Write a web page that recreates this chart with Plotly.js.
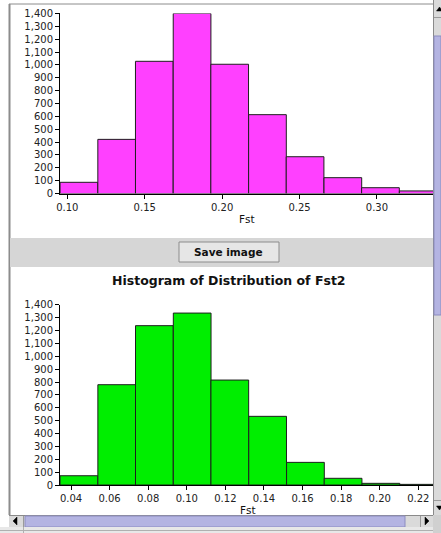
<!DOCTYPE html>
<html><head><meta charset="utf-8">
<script src="https://cdn.plot.ly/plotly-3.0.1.min.js"></script>
<style>html,body{margin:0;padding:0;background:#fff;overflow:hidden}#chart{width:441px;height:533px}</style>
</head><body><div id="chart"></div>
<script>
// ---- data ----
const fst1BinCenters = [0.1075, 0.1319, 0.1562, 0.1806, 0.2049, 0.2293, 0.2536, 0.2780, 0.3023, 0.3267];
const fst1Counts     = [87, 421, 1028, 1400, 1005, 613, 286, 123, 45, 20];
const fst1BinWidth   = 0.02435;
const fst2BinCenters = [0.0441, 0.0637, 0.0832, 0.1028, 0.1223, 0.1419, 0.1615, 0.1810, 0.2006, 0.2201];
const fst2Counts     = [72, 780, 1239, 1337, 816, 534, 176, 52, 13, 5];
const fst2BinWidth   = 0.01955;
const xLabel = 'Fst';
const chartTitle2 = 'Histogram of Distribution of Fst2';
const buttonLabel = 'Save image';

// ---- layout helpers (pixel -> paper) ----
const W = 441, H = 533;
const px = x => x / W;
const py = y => 1 - y / H;
const FONT = 'DejaVu Sans, Verdana, sans-serif';

function rect(x0, y0, x1, y1, fill, line, lw) {
  return {type: 'rect', xref: 'paper', yref: 'paper', layer: 'above',
    x0: px(x0), x1: px(x1), y0: py(y1), y1: py(y0),
    fillcolor: fill, line: {color: line || 'rgba(0,0,0,0)', width: lw === undefined ? (line ? 1 : 0) : lw}};
}
function lineS(x0, y0, x1, y1, color, w) {
  return {type: 'line', xref: 'paper', yref: 'paper', layer: 'above',
    x0: px(x0), x1: px(x1), y0: py(y0), y1: py(y1), line: {color: color, width: w || 1}};
}
function tri(pts) {
  const d = 'M' + pts.map(p => px(p[0]) + ',' + py(p[1])).join('L') + 'Z';
  return {type: 'path', xref: 'paper', yref: 'paper', layer: 'above', path: d,
    fillcolor: '#000', line: {color: '#000', width: 0.5}};
}

const barLine = {color: '#1e1e1e', width: 1};
const traces = [
  {type: 'bar', x: fst1BinCenters, y: fst1Counts, width: fst1BinWidth,
   marker: {color: '#ff40ff', line: barLine}, xaxis: 'x', yaxis: 'y', hoverinfo: 'x+y'},
  {type: 'bar', x: fst2BinCenters, y: fst2Counts, width: fst2BinWidth,
   marker: {color: '#00ee00', line: barLine}, xaxis: 'x2', yaxis: 'y2', hoverinfo: 'x+y'}
];

const tickFont = {family: FONT, size: 10, color: '#222'};
function xAxis(domainY, range, dtick, tick0, anchor) {
  return {domain: [px(60), px(433)], range: range, anchor: anchor,
    showline: true, linecolor: '#000', linewidth: 1, ticks: 'outside', ticklen: 4, tickcolor: '#000',
    tickformat: '.2f', dtick: dtick, tick0: tick0, showgrid: false, zeroline: false,
    tickfont: tickFont, fixedrange: true, automargin: false};
}
function yAxis(y0pix, y1pix, anchor) {
  return {domain: [py(y0pix), py(y1pix)], range: [0, 1400.5], anchor: anchor,
    showline: true, linecolor: '#000', linewidth: 1, ticks: 'outside', ticklen: 4, tickcolor: '#000',
    tickformat: ',d', dtick: 100, showgrid: false, zeroline: false,
    tickfont: tickFont, fixedrange: true, automargin: false};
}

const shapes = [
  // frame borders
  lineS(9, 4, 433, 4, '#8c8c8c', 1),
  lineS(9.5, 4, 9.5, 515, '#8c8c8c', 2),
  // band with button
  rect(10, 238, 433, 267, '#d6d6d6'),
  rect(179, 242, 279, 262, '#e6e6e6', '#8c8c8c', 1),
  // vertical scrollbar
  rect(433, 0, 441, 515, '#dadada'),
  lineS(433.5, 0, 433.5, 515, '#8a8a8a', 1),
  lineS(434, 17.5, 441, 17.5, '#9a9a9a', 1),
  rect(434, 36, 441, 315, '#b4b4e2', '#8c8cc0', 1),
  lineS(434, 500.5, 441, 500.5, '#9a9a9a', 1),
  tri([[436.5, 11], [439.5, 7], [442.5, 11]]),
  tri([[436.5, 506], [442.5, 506], [439.5, 510]]),
  // horizontal scrollbar
  rect(9, 515, 433, 527, '#dadada'),
  lineS(9, 515.5, 433, 515.5, '#8a8a8a', 1),
  lineS(23.5, 516, 23.5, 527, '#9a9a9a', 1),
  rect(25, 516, 405, 527, '#b4b4e2', '#8c8cc0', 1),
  lineS(420.5, 516, 420.5, 527, '#9a9a9a', 1),
  tri([[13, 521], [17, 517], [17, 525]]),
  tri([[425, 517], [429, 521], [425, 525]]),
  rect(433, 515, 441, 533, '#d0d0d0'),
  // bottom strip
  rect(0, 527, 433, 533, '#e8e8e8'),
  lineS(0, 530.5, 433, 530.5, '#b0b0b0', 1),
  lineS(23.5, 527, 23.5, 533, '#b0b0b0', 1)
];

function ann(text, x, y, size, bold) {
  return {text: text, xref: 'paper', yref: 'paper', x: px(x), y: py(y), xanchor: 'center', yanchor: 'middle',
    showarrow: false, font: {family: FONT, size: size, color: '#111', weight: bold ? 'bold' : 'normal'}};
}

const layout = {
  width: W, height: H, margin: {l: 0, r: 0, t: 0, b: 0, pad: 0},
  paper_bgcolor: '#ffffff', plot_bgcolor: 'rgba(0,0,0,0)',
  showlegend: false, bargap: 0, barmode: 'overlay',
  xaxis: xAxis(null, [0.09528, 0.33624], 0.05, 0.10, 'y'),
  yaxis: yAxis(193.5, 13.4, 'x'),
  xaxis2: xAxis(null, [0.0343, 0.2276], 0.02, 0.04, 'y2'),
  yaxis2: yAxis(485, 304.9, 'x2'),
  shapes: shapes,
  annotations: [
    ann(xLabel, 247, 218.5, 10.5, false),
    ann(xLabel, 248, 510, 10.5, false),
    ann(buttonLabel, 229, 252, 10.5, true),
    ann(chartTitle2, 229, 280, 12.5, true)
  ]
};

Plotly.newPlot('chart', traces, layout, {displayModeBar: false, staticPlot: true});
</script></body></html>
